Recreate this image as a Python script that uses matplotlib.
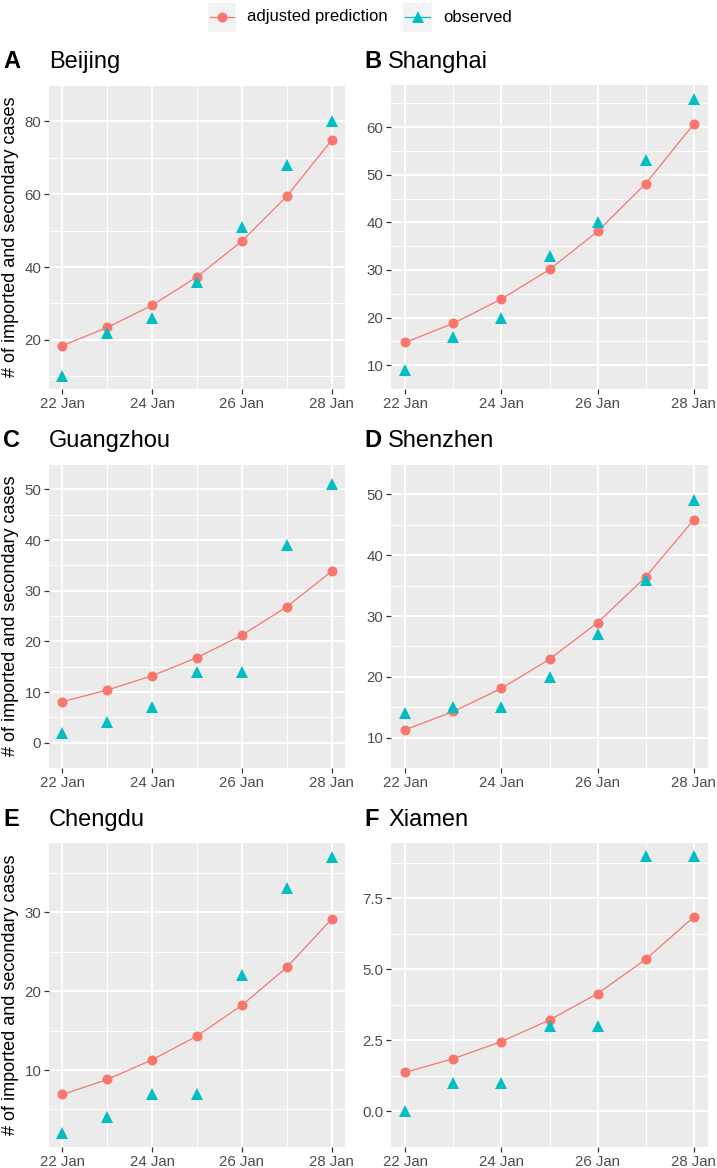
import matplotlib
matplotlib.use("Agg")
import matplotlib.pyplot as plt
from matplotlib.lines import Line2D
from matplotlib.patches import Rectangle
import numpy as np

plt.rcParams['font.family'] = ['Liberation Sans', 'DejaVu Sans']

days = [22, 23, 24, 25, 26, 27, 28]
major_days = [22, 24, 26, 28]
minor_days = [23, 25, 27]

cities = ["Beijing", "Shanghai", "Guangzhou", "Shenzhen", "Chengdu", "Xiamen"]
letters = ["A", "B", "C", "D", "E", "F"]

pred_beijing = [18.4, 23.4, 29.5, 37.3, 47.1, 59.4, 74.8]
obs_beijing = [10, 22, 26, 36, 51, 68, 80]
pred_shanghai = [14.8, 18.8, 23.9, 30.1, 38.1, 48.1, 60.6]
obs_shanghai = [9, 16, 20, 33, 40, 53, 66]
pred_guangzhou = [8.1, 10.4, 13.2, 16.8, 21.2, 26.8, 33.8]
obs_guangzhou = [2, 4, 7, 14, 14, 39, 51]
pred_shenzhen = [11.3, 14.3, 18.1, 22.9, 28.9, 36.4, 45.8]
obs_shenzhen = [14, 15, 15, 20, 27, 36, 49]
pred_chengdu = [6.9, 8.8, 11.3, 14.3, 18.2, 23.0, 29.1]
obs_chengdu = [2, 4, 7, 7, 22, 33, 37]
pred_xiamen = [1.38, 1.86, 2.46, 3.22, 4.15, 5.35, 6.84]
obs_xiamen = [0, 1, 1, 3, 3, 9, 9]

preds = [pred_beijing, pred_shanghai, pred_guangzhou, pred_shenzhen, pred_chengdu, pred_xiamen]
obss = [obs_beijing, obs_shanghai, obs_guangzhou, obs_shenzhen, obs_chengdu, obs_xiamen]

yticks = [[20, 40, 60, 80], [10, 20, 30, 40, 50, 60], [0, 10, 20, 30, 40, 50],
          [10, 20, 30, 40, 50], [10, 20, 30], [0.0, 2.5, 5.0, 7.5]]
ytick_fmt = ["{:.0f}", "{:.0f}", "{:.0f}", "{:.0f}", "{:.0f}", "{:.1f}"]

ylabel = "# of imported and secondary cases"
legend_labels = ["adjusted prediction", "observed"]

RED = "#F8766D"
CYAN = "#00BFC4"
PANEL = "#EBEBEB"

W, H = 717, 1168
fig = plt.figure(figsize=(W / 100, H / 100), dpi=100)

def fx(px):
    return px / W

def fy(py):
    return 1 - py / H

row_tops = [85, 464, 843]
panel_h = 304
col_lr = [(49, 345), (391, 708)]
label_x = [3, 364]
title_x = [49, 388]

for i in range(6):
    r, c = divmod(i, 2)
    left, right = col_lr[c]
    top = row_tops[r]
    ax = fig.add_axes([fx(left), fy(top + panel_h), fx(right - left), panel_h / H])
    ax.set_facecolor(PANEL)
    for s in ax.spines.values():
        s.set_visible(False)
    p = preds[i]
    o = obss[i]
    allv = list(p) + list(o)
    lo, hi = min(allv), max(allv)
    span = hi - lo
    ax.set_ylim(lo - 0.05 * span, hi + 0.05 * span)
    ax.set_xlim(22 - 0.3, 28 + 0.3)
    yt = yticks[i]
    ax.set_yticks(yt)
    ax.set_yticklabels([ytick_fmt[i].format(v) for v in yt])
    step = yt[1] - yt[0]
    minors = [yt[0] - step / 2] + [v + step / 2 for v in yt]
    ax.set_yticks(minors, minor=True)
    ax.set_xticks(major_days)
    ax.set_xticklabels([f"{d} Jan" for d in major_days])
    ax.set_xticks(minor_days, minor=True)
    ax.grid(which="major", color="white", linewidth=1.4)
    ax.grid(which="minor", color="white", linewidth=0.7)
    ax.set_axisbelow(True)
    ax.tick_params(which="major", length=3.5, width=0.9, color="#333333",
                   labelcolor="#4D4D4D", labelsize=10.8, pad=2)
    ax.tick_params(which="minor", length=0)
    ax.plot(days, p, color=RED, linewidth=0.9, zorder=3)
    ax.plot(days, p, linestyle="none", marker="o", markersize=7.2,
            color=RED, markeredgewidth=0, zorder=4)
    ax.plot(days, o, linestyle="none", marker="^", markersize=8.2,
            color=CYAN, markeredgewidth=0, zorder=5)
    if c == 0:
        ax.set_ylabel(ylabel, fontsize=13, color="black", labelpad=4)
    fig.text(fx(label_x[c]), fy(top - 23), letters[i], fontsize=17,
             fontweight="bold", va="center", ha="left")
    fig.text(fx(title_x[c]), fy(top - 23), cities[i], fontsize=17,
             va="center", ha="left")

# legend
leg_y = 17
keys = [(208, 236), (403, 432)]
text_x = [247, 443]
for k, ((x0, x1), lab) in enumerate(zip(keys, legend_labels)):
    fig.patches.append(Rectangle((fx(x0), fy(leg_y + 14.5)), fx(x1 - x0), 29 / H,
                                 transform=fig.transFigure, facecolor="#F2F2F2",
                                 edgecolor="none"))
    col = RED if k == 0 else CYAN
    mk = "o" if k == 0 else "^"
    ms = 7.2 if k == 0 else 8.2
    fig.lines.append(Line2D([fx(x0 + 2), fx(x1 - 2)], [fy(leg_y), fy(leg_y)],
                            transform=fig.transFigure, color=col, linewidth=0.9))
    fig.lines.append(Line2D([fx((x0 + x1) / 2)], [fy(leg_y)], transform=fig.transFigure,
                            marker=mk, markersize=ms, color=col, markeredgewidth=0,
                            linestyle="none"))
    fig.text(fx(text_x[k]), fy(leg_y), lab, fontsize=12, va="center", ha="left")

fig.savefig("out.png", dpi=100, facecolor="white")
